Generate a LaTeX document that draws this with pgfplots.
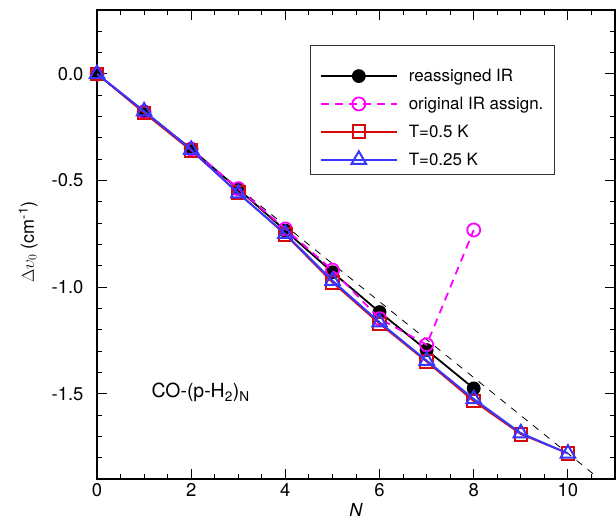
\documentclass[border=0pt]{standalone}
\usepackage{fontspec}
\setmainfont{TeX Gyre Heros}
\usepackage{pgfplots}
\pgfplotsset{compat=1.18}
\definecolor{cred}{RGB}{214,10,10}
\definecolor{cblue}{RGB}{55,55,255}
\definecolor{cmag}{RGB}{255,0,255}
\begin{document}
\begin{tikzpicture}[font=\fontsize{17}{20}\selectfont]
\begin{axis}[
  name=ax,
  scale only axis, width=518bp, height=469bp,
  xmin=0, xmax=11, ymin=-1.9, ymax=0.3,
  clip mode=individual,
  xtick={0,2,4,6,8,10},
  minor xtick={0.5,1,1.5,2.5,3,3.5,4.5,5,5.5,6.5,7,7.5,8.5,9,9.5,10.5},
  ytick={-1.5,-1,-0.5,0}, yticklabels={-1.5,-1.0,-0.5,0.0},
  minor ytick={-1.8,-1.7,-1.6,-1.4,-1.3,-1.2,-1.1,-0.9,-0.8,-0.7,-0.6,-0.4,-0.3,-0.2,-0.1,0.1,0.2},
  tick align=inside, tick pos=both,
  major tick length=10bp, minor tick length=5bp,
  every tick/.style={black, line width=1bp},
  axis line style={line width=1.6bp},
  tick label style={font=\fontsize{18.5}{21}\selectfont},
  yticklabel style={xshift=-10bp},
  xticklabel style={yshift=-1bp},
  /pgf/number format/assume math mode=true,
  xlabel={\textit{N}},
  ylabel={$\Delta\upsilon_0$ (cm\textsuperscript{-1})},
  label style={font=\fontsize{18}{21}\selectfont},
  xlabel style={at={(ticklabel cs:0.5)}, anchor=north, yshift=0bp},
  ylabel style={at={(axis description cs:-0.133,0.505)}, anchor=center},
  legend style={at={(0.884,0.925)}, anchor=north east, draw=black!80, line width=1bp,
    font=\fontsize{17}{20}\selectfont, nodes={font=\fontsize{17}{20}\selectfont, inner sep=2bp},
    cells={anchor=west}, inner xsep=9bp, inner ysep=6bp,
    row sep=10bp, /tikz/every odd column/.append style={column sep=9bp}},
  legend image code/.code={\draw[mark repeat=2,mark phase=2] plot coordinates {(0bp,0bp) (38bp,0bp) (76bp,0bp)};},
]
\addplot[black, line width=0.8bp, dash pattern=on 7bp off 7bp, forget plot] coordinates {(0,0) (10.6,-1.887)};
\addlegendimage{empty legend}
\addlegendentry{}
\addplot[black, line width=1.8bp, mark=*, mark size=6bp, mark options={solid, fill=black}] coordinates {
(0,0) (1,-0.176) (2,-0.352) (3,-0.54) (4,-0.735) (5,-0.93) (6,-1.117) (7,-1.295) (8,-1.475)};
\addlegendentry{reassigned IR}
\addplot[cmag, line width=1.8bp, dash pattern=on 8bp off 6bp, mark=o, mark size=6.5bp, mark options={solid, fill=white, line width=1.8bp}] coordinates {
(0,0) (1,-0.178) (2,-0.352) (3,-0.538) (4,-0.727) (5,-0.92) (6,-1.148) (7,-1.27) (8,-0.732)};
\addlegendentry{original IR assign.}
\addplot[color=cred, line width=1.6bp, mark=square, mark size=6.3bp, mark options={solid, fill=white, line width=2bp}] coordinates {
(0,0) (1,-0.183) (2,-0.36) (3,-0.557) (4,-0.754) (5,-0.978) (6,-1.172) (7,-1.35) (8,-1.535) (9,-1.69) (10,-1.78)};
\addlegendentry{T=0.5 K}
\addplot[color=cblue, line width=2bp, mark=triangle, mark size=8.3bp, mark options={solid, fill=white, line width=2bp}] coordinates {
(0,0) (1,-0.175) (2,-0.355) (3,-0.56) (4,-0.75) (5,-0.97) (6,-1.165) (7,-1.345) (8,-1.525) (9,-1.685) (10,-1.78)};
\addlegendentry{T=0.25 K}
\node[anchor=base, font=\fontsize{19.5}{22}\selectfont] at (axis cs:2.2,-1.52) {CO-(p-H\textsubscript{2})\textsubscript{N}};
\end{axis}
\pgfresetboundingbox
\path ([shift={(-97bp,-48bp)}]ax.south west) rectangle ([shift={(1bp,10bp)}]ax.north east);
\end{tikzpicture}
\end{document}
